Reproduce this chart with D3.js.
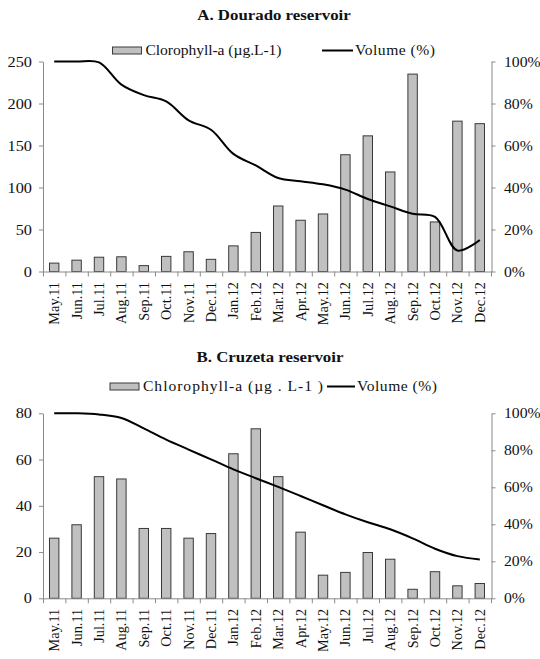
<!DOCTYPE html>
<html>
<head>
<meta charset="utf-8">
<script src="https://cdn.jsdelivr.net/npm/d3@7"></script>
<style>
  html, body { margin: 0; padding: 0; background: #fff; }
  svg { display: block; }
  text { font-family: "Liberation Serif", "Times New Roman", serif; fill: #111; }
</style>
</head>
<body>
<svg id="chart" width="540" height="659"></svg>
<script>
// ---------- DATA ----------
const months = ["May.11","Jun.11","Jul.11","Aug.11","Sep.11","Oct.11","Nov.11","Dec.11",
                "Jan.12","Feb.12","Mar.12","Apr.12","May.12","Jun.12","Jul.12","Aug.12",
                "Sep.12","Oct.12","Nov.12","Dec.12"];

const chlDourado = [10, 13.5, 17, 17.5, 7, 18, 23.5, 14.5, 30.5, 46.5, 78, 61, 68.5, 139, 161.5, 118.5, 235, 59, 179, 176];
const volDourado = [100, 100, 99.6, 89, 84, 81, 72, 67.5, 56, 50.5, 44.5, 43, 41.5, 39, 34.5, 31, 27.5, 26, 10, 15];

const chlCruzeta = [26, 31.8, 52.6, 51.6, 30.2, 30.2, 26, 28, 62.5, 73.3, 52.6, 28.6, 10, 11.2, 19.8, 16.9, 3.9, 11.5, 5.4, 6.4];
const volCruzeta = [100, 100, 99.4, 97.5, 91.8, 85.8, 80.4, 75.1, 69.7, 64.9, 60.2, 55.3, 50.3, 45.4, 41.1, 37.3, 32.4, 26.8, 22.8, 21];

const ticksLeftA = [0, 50, 100, 150, 200, 250];
const ticksLeftB = [0, 20, 40, 60, 80];
const ticksPct = [0, 20, 40, 60, 80, 100];

const titles = ["A. Dourado reservoir", "B. Cruzeta reservoir"];
const barLegend = ["Clorophyll-a (\u00b5g.L-1)", "Chlorophyll-a (\u00b5g . L-1 )"];
const lineLegend = "Volume (%)";

// ---------- DRAW ----------
const svg = d3.select("#chart");
const SX = 1.1;        // horizontal stretch of the original text
const AX = "#8a8a8a";  // axis gray

function hText(g, x, y, str, opts) {
  const o = Object.assign({size: 14.5, anchor: "start", weight: "normal", len: null}, opts || {});
  const t = g.append("g").attr("transform", `translate(${x},${y}) scale(${SX},1)`)
    .append("text")
    .attr("x", 0).attr("y", 0)
    .attr("dy", "0.35em")
    .attr("text-anchor", o.anchor)
    .style("font-size", o.size + "px")
    .style("font-weight", o.weight)
    .text(str);
  if (o.len) t.attr("textLength", o.len / SX).attr("lengthAdjust", "spacing");
  return t;
}

function panel(cfg) {
  const g = svg.append("g");
  const x0 = 43, x1 = 491;
  const x = d3.scaleBand().domain(months).range([x0, x1]).paddingInner(0.58).paddingOuter(0.29);
  const xb = d3.scaleLinear().domain([0, months.length]).range([x0, x1]);
  const yL = d3.scaleLinear().domain([0, cfg.maxL]).range([cfg.yBottom, cfg.yTop]);
  const yR = d3.scaleLinear().domain([0, 100]).range([cfg.yBottom, cfg.yTop]);

  // title
  hText(g, cfg.titleX, cfg.titleY, cfg.title, {size: 15.3, anchor: "middle", weight: "bold"});

  // bars
  g.append("g").selectAll("rect").data(cfg.chl).join("rect")
    .attr("x", (d, i) => x(months[i]))
    .attr("y", d => yL(d))
    .attr("width", x.bandwidth())
    .attr("height", d => yL(0) - yL(d))
    .attr("fill", "#c0c0c0")
    .attr("stroke", "#3a3a3a")
    .attr("stroke-width", 1);

  // axes
  const axL = g.append("g").attr("transform", `translate(${x0},0)`)
    .call(d3.axisLeft(yL).tickValues(cfg.ticksL).tickSize(4).tickSizeOuter(0).tickFormat(""));
  const axR = g.append("g").attr("transform", `translate(${x1 + 0.5},0)`)
    .call(d3.axisRight(yR).tickValues(ticksPct).tickSize(4).tickSizeOuter(0).tickFormat(""));
  const axB = g.append("g").attr("transform", `translate(0,${cfg.yBottom})`)
    .call(d3.axisBottom(xb).tickValues(d3.range(months.length + 1)).tickSize(5).tickSizeOuter(0).tickFormat(""));
  [axL, axR, axB].forEach(a => {
    a.selectAll("path,line").attr("stroke", AX).attr("stroke-width", 1);
  });

  // tick labels
  cfg.ticksL.forEach(v => hText(g, 32, yL(v), String(v), {size: 14.8, anchor: "end"}));
  ticksPct.forEach(v => hText(g, 504, yR(v), v + "%", {size: 14.3, anchor: "start"}));
  months.forEach(m => {
    const cx = x(m) + x.bandwidth() / 2;
    g.append("text")
      .attr("transform", `translate(${cx},${cfg.yBottom + 10.5}) rotate(-90)`)
      .attr("text-anchor", "end")
      .attr("dy", "0.35em")
      .style("font-size", "14.3px")
      .text(m);
  });

  // volume line
  const line = d3.line()
    .x((d, i) => x(months[i]) + x.bandwidth() / 2)
    .y(d => yR(d))
    .curve(d3.curveCatmullRom.alpha(0.5));
  g.append("path").datum(cfg.vol)
    .attr("d", line)
    .attr("fill", "none")
    .attr("stroke", "#000")
    .attr("stroke-width", 2);

  // legend
  const L = cfg.legend;
  g.append("rect").attr("x", L.boxX).attr("y", L.y - 3.5).attr("width", 29).attr("height", 7)
    .attr("fill", "#c0c0c0").attr("stroke", "#3a3a3a").attr("stroke-width", 1);
  hText(g, L.boxX + 33, L.y, cfg.barLabel, {size: 14.2, len: L.textW});
  g.append("line").attr("x1", L.lineX).attr("x2", L.lineX + L.lineW)
    .attr("y1", L.y).attr("y2", L.y).attr("stroke", "#000").attr("stroke-width", 2);
  hText(g, L.lineX + L.lineW + 2, L.y, lineLegend, {size: 14.2, len: 80});
}

panel({
  title: titles[0], titleX: 274, titleY: 15,
  chl: chlDourado, vol: volDourado, maxL: 250, ticksL: ticksLeftA,
  yTop: 61.5, yBottom: 271.5, barLabel: barLegend[0],
  legend: {boxX: 112.5, y: 50.5, textW: 136, lineX: 322, lineW: 31}
});

panel({
  title: titles[1], titleX: 270, titleY: 357,
  chl: chlCruzeta, vol: volCruzeta, maxL: 80, ticksL: ticksLeftB,
  yTop: 413.3, yBottom: 598.3, barLabel: barLegend[1],
  legend: {boxX: 110, y: 386.5, textW: 180, lineX: 327, lineW: 28}
});
</script>
</body>
</html>
